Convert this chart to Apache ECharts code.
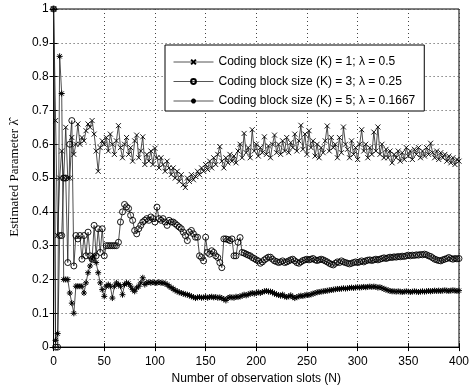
<!DOCTYPE html>
<html>
<head>
<meta charset="utf-8">
<script src="https://cdn.jsdelivr.net/npm/echarts@6/dist/echarts.min.js"></script>
<style>
html,body{margin:0;padding:0;background:#fff;}
#chart{width:472px;height:390px;}
</style>
</head>
<body>
<div id="chart"></div>
<script>
// observation slots (every 2nd slot)
var slots = [
  0,2,4,6,8,10,12,14,16,18,
  20,22,24,26,28,30,32,34,36,38,
  40,42,44,46,48,50,52,54,56,58,
  60,62,64,66,68,70,72,74,76,78,
  80,82,84,86,88,90,92,94,96,98,
  100,102,104,106,108,110,112,114,116,118,
  120,122,124,126,128,130,132,134,136,138,
  140,142,144,146,148,150,152,154,156,158,
  160,162,164,166,168,170,172,174,176,178,
  180,182,184,186,188,190,192,194,196,198,
  200,202,204,206,208,210,212,214,216,218,
  220,222,224,226,228,230,232,234,236,238,
  240,242,244,246,248,250,252,254,256,258,
  260,262,264,266,268,270,272,274,276,278,
  280,282,284,286,288,290,292,294,296,298,
  300,302,304,306,308,310,312,314,316,318,
  320,322,324,326,328,330,332,334,336,338,
  340,342,344,346,348,350,352,354,356,358,
  360,362,364,366,368,370,372,374,376,378,
  380,382,384,386,388,390,392,394,396,398,
  400
];

// K = 1, lambda = 0.5
var lambdaK1 = [
  1,0.67,0.33,0.5,0.58,0.5,0.65,0.5,0.5,0.62,
  0.57,0.6,0.66,0.6,0.62,0.61,0.64,0.66,0.65,0.67,
  0.63,0.58,0.52,0.59,0.61,0.6,0.62,0.58,0.63,0.6,
  0.57,0.61,0.655,0.59,0.56,0.6,0.62,0.57,0.59,0.55,
  0.61,0.627,0.56,0.58,0.622,0.54,0.57,0.55,0.58,0.54,
  0.588,0.56,0.53,0.56,0.54,0.52,0.55,0.53,0.51,0.53,
  0.5,0.52,0.49,0.51,0.48,0.472,0.5,0.49,0.51,0.495,
  0.505,0.52,0.51,0.53,0.52,0.54,0.525,0.55,0.53,0.56,
  0.54,0.57,0.593,0.55,0.53,0.56,0.545,0.57,0.55,0.565,
  0.545,0.58,0.6,0.56,0.632,0.575,0.59,0.56,0.643,0.58,
  0.6,0.565,0.59,0.575,0.622,0.57,0.595,0.56,0.6,0.627,
  0.575,0.6,0.57,0.61,0.58,0.62,0.575,0.605,0.59,0.63,
  0.58,0.61,0.656,0.585,0.63,0.57,0.64,0.59,0.61,0.565,
  0.6,0.56,0.59,0.575,0.61,0.654,0.58,0.62,0.59,0.6,
  0.56,0.62,0.575,0.651,0.6,0.585,0.56,0.61,0.57,0.59,
  0.555,0.6,0.643,0.58,0.6,0.56,0.59,0.57,0.636,0.58,
  0.651,0.57,0.6,0.56,0.585,0.56,0.58,0.545,0.57,0.56,
  0.58,0.55,0.575,0.555,0.59,0.565,0.58,0.555,0.585,0.57,
  0.59,0.56,0.58,0.565,0.59,0.57,0.603,0.575,0.56,0.58,
  0.555,0.575,0.56,0.57,0.55,0.565,0.545,0.56,0.54,0.555,
  0.55
];

// K = 3, lambda = 0.25
var lambdaK3 = [
  1,0,0,0.33,0.33,0.5,0.5,0.25,0.6,0.67,
  0.24,0.33,0.32,0.33,0.26,0.33,0.27,0.34,0.27,0.26,
  0.36,0.27,0.35,0.28,0.35,0.27,0.3,0.3,0.3,0.3,
  0.3,0.3,0.31,0.37,0.4,0.422,0.415,0.41,0.39,0.375,
  0.345,0.335,0.35,0.36,0.37,0.375,0.38,0.375,0.385,0.38,
  0.37,0.414,0.38,0.375,0.38,0.37,0.36,0.375,0.37,0.37,
  0.365,0.36,0.355,0.35,0.34,0.33,0.315,0.34,0.345,0.335,
  0.325,0.325,0.27,0.265,0.255,0.325,0.28,0.275,0.285,0.28,
  0.27,0.265,0.25,0.235,0.32,0.32,0.318,0.315,0.32,0.27,
  0.27,0.31,0.324,0.28,0.278,0.275,0.272,0.27,0.265,0.262,
  0.258,0.255,0.248,0.252,0.258,0.262,0.266,0.266,0.26,0.255,
  0.253,0.25,0.252,0.255,0.25,0.252,0.255,0.258,0.26,0.255,
  0.25,0.248,0.252,0.256,0.258,0.26,0.258,0.26,0.262,0.258,
  0.256,0.258,0.26,0.258,0.255,0.252,0.248,0.245,0.243,0.248,
  0.252,0.25,0.255,0.252,0.25,0.248,0.246,0.248,0.25,0.252,
  0.25,0.252,0.255,0.252,0.255,0.257,0.258,0.256,0.258,0.26,
  0.258,0.26,0.262,0.264,0.262,0.264,0.266,0.265,0.267,0.266,
  0.268,0.267,0.269,0.268,0.27,0.272,0.27,0.272,0.271,0.273,
  0.272,0.274,0.273,0.275,0.273,0.27,0.268,0.264,0.26,0.258,
  0.256,0.255,0.258,0.26,0.262,0.265,0.262,0.26,0.262,0.261,
  0.262
];

// K = 5, lambda = 0.1667
var lambdaK5 = [
  1,0.02,0.04,0.86,0.75,0.2,0.2,0.2,0.16,0.13,
  0.1,0.18,0.18,0.18,0.18,0.16,0.19,0.22,0.24,0.26,
  0.27,0.25,0.22,0.19,0.17,0.15,0.18,0.185,0.18,0.145,
  0.18,0.19,0.185,0.18,0.155,0.185,0.19,0.188,0.18,0.17,
  0.165,0.175,0.18,0.19,0.205,0.185,0.19,0.192,0.19,0.192,
  0.19,0.19,0.192,0.19,0.19,0.188,0.185,0.18,0.176,0.172,
  0.168,0.165,0.162,0.16,0.158,0.156,0.155,0.153,0.15,0.148,
  0.145,0.147,0.148,0.146,0.147,0.148,0.146,0.148,0.149,0.147,
  0.148,0.146,0.147,0.145,0.142,0.138,0.145,0.148,0.147,0.146,
  0.149,0.148,0.15,0.152,0.155,0.153,0.156,0.158,0.16,0.158,
  0.16,0.162,0.16,0.163,0.165,0.166,0.164,0.164,0.162,0.158,
  0.156,0.154,0.152,0.155,0.15,0.148,0.15,0.153,0.148,0.145,
  0.148,0.15,0.152,0.151,0.153,0.155,0.154,0.156,0.158,0.16,
  0.162,0.163,0.164,0.165,0.166,0.167,0.168,0.169,0.17,0.171,
  0.172,0.172,0.173,0.174,0.173,0.174,0.175,0.176,0.175,0.176,
  0.177,0.176,0.177,0.178,0.177,0.178,0.179,0.178,0.179,0.178,
  0.176,0.177,0.175,0.172,0.17,0.168,0.166,0.165,0.165,0.164,
  0.165,0.164,0.163,0.164,0.165,0.164,0.163,0.164,0.165,0.164,
  0.163,0.164,0.165,0.164,0.165,0.166,0.165,0.166,0.167,0.166,
  0.167,0.166,0.167,0.168,0.167,0.166,0.167,0.168,0.167,0.166,
  0.167
];

var seriesNames = [
  'Coding block size (K) = 1; \u03bb = 0.5',
  'Coding block size (K) = 3; \u03bb = 0.25',
  'Coding block size (K) = 5; \u03bb = 0.1667'
];

var crossSym = 'path://M0,0L10,10M10,0L0,10';
var starSym = 'path://M5,0L5,10M0,5L10,5M1.5,1.5L8.5,8.5M8.5,1.5L1.5,8.5';

function pairs(vals) {
  return slots.map(function (n, i) { return [n, vals[i]]; });
}

function makeSeries(name, vals, sym, size, bw) {
  return {
    name: name,
    type: 'line',
    data: pairs(vals),
    symbol: sym,
    symbolSize: size,
    showSymbol: true,
    lineStyle: {color: '#222', width: 0.8},
    itemStyle: {color: 'rgba(0,0,0,0)', borderColor: '#000', borderWidth: bw},
    emphasis: {disabled: true}
  };
}

var myChart = echarts.init(document.getElementById('chart'), null, {renderer: 'canvas'});

var sans = 'Liberation Sans, Arial, sans-serif';

option = {
  animation: false,
  backgroundColor: '#fff',
  grid: {
    left: 48, right: 10, top: 9, bottom: 39,
    show: true, borderColor: '#000', borderWidth: 1, backgroundColor: '#fff'
  },
  legend: {
    orient: 'vertical',
    left: 165, top: 45,
    padding: [11, 9, 4, 8],
    itemWidth: 40, itemHeight: 6, itemGap: 7.5,
    backgroundColor: '#fff',
    borderColor: '#000', borderWidth: 1, borderRadius: 0,
    textStyle: {color: '#000', fontSize: 12, fontFamily: sans},
    lineStyle: {color: '#555', width: 1},
    data: seriesNames
  },
  xAxis: [{
    type: 'value', min: 0, max: 400, interval: 50,
    name: 'Number of observation slots (N)',
    nameLocation: 'middle', nameGap: 24,
    nameTextStyle: {color: '#000', fontSize: 12, fontFamily: sans},
    axisLine: {show: true, lineStyle: {color: '#000'}},
    axisTick: {show: true, inside: true, length: 4, lineStyle: {color: '#000'}},
    axisLabel: {color: '#000', fontSize: 12, fontFamily: sans, margin: 9},
    splitLine: {show: true, lineStyle: {color: '#444', type: [1, 3]}}
  }, {
    type: 'value', position: 'top', min: 0, max: 400, interval: 50,
    axisLine: {show: true, lineStyle: {color: '#000'}},
    axisTick: {show: true, inside: true, length: 4, lineStyle: {color: '#000'}},
    axisLabel: {show: false},
    splitLine: {show: false}
  }],
  yAxis: [{
    type: 'value', min: 0, max: 1, interval: 0.1,
    name: 'Estimated Parameter \u03bb\u0302',
    nameLocation: 'middle', nameGap: 31,
    nameTextStyle: {color: '#000', fontSize: 13, fontFamily: 'Liberation Serif, Times New Roman, serif'},
    axisLine: {show: true, lineStyle: {color: '#000'}},
    axisTick: {show: true, inside: true, length: 4, lineStyle: {color: '#000'}},
    axisLabel: {color: '#000', fontSize: 12, fontFamily: sans, margin: 5},
    splitLine: {show: true, lineStyle: {color: '#444', type: [1, 3]}}
  }, {
    type: 'value', position: 'right', min: 0, max: 1, interval: 0.1,
    axisLine: {show: true, lineStyle: {color: '#000'}},
    axisTick: {show: true, inside: true, length: 4, lineStyle: {color: '#000'}},
    axisLabel: {show: false},
    splitLine: {show: false}
  }],
  series: [
    makeSeries(seriesNames[0], lambdaK1, crossSym, 5, 0.9),
    makeSeries(seriesNames[1], lambdaK3, 'circle', 6, 0.9),
    makeSeries(seriesNames[2], lambdaK5, starSym, 6, 1)
  ]
};
myChart.setOption(option);
</script>
</body>
</html>
